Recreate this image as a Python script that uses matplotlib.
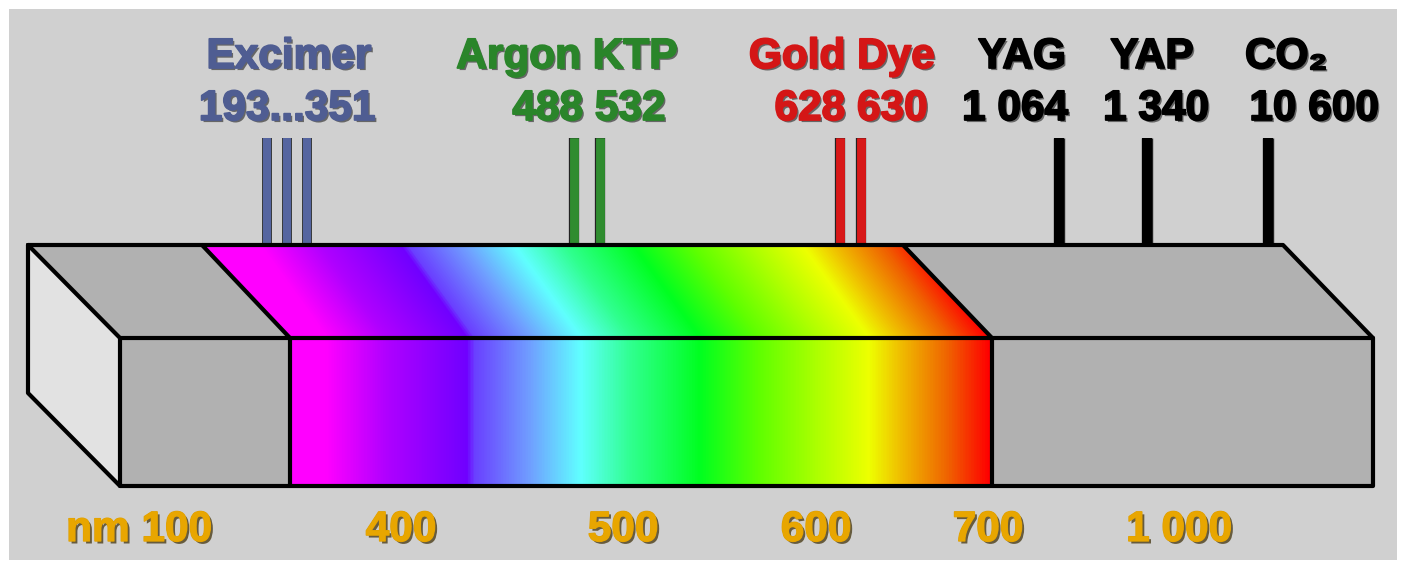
import numpy as np
import matplotlib
matplotlib.use("Agg")
import matplotlib.pyplot as plt
import matplotlib.patheffects as pe
from matplotlib.patches import Polygon, Rectangle
from matplotlib.colors import LinearSegmentedColormap

# laser groups shown above the bar
laser_names = ["Excimer", "Argon KTP", "Gold Dye", "YAG", "YAP", "CO\u2082"]
laser_waves = ["193...351", "488 532", "628 630", "1 064", "1 340", "10 600"]
laser_lines = [[193, 248, 351], [488, 532], [628, 630], [1064], [1340], [10600]]
laser_colors = ["#4f5d92", "#2a852a", "#d41616", "#000000", "#000000", "#000000"]
line_colors = ["#5565a0", "#2f8c2f", "#d81818", "#000000", "#000000", "#000000"]

# scale labels under the bar
scale_labels = ["nm 100", "400", "500", "600", "700", "1 000"]

# spectrum colour stops along the front face (schematic x, colour)
spec_x = [290, 325, 385, 466, 474, 530, 580, 630, 700, 760, 820, 870, 900, 950, 990]
spec_c = ["#ff00ff", "#ff00ff", "#b000ff", "#7000ff", "#6a40ff", "#70a0ff", "#60ffff",
          "#30ff90", "#00ff20", "#60ff00", "#b0ff00", "#eeff00", "#f0c000", "#f06000",
          "#ff0000"]

# ---- layout (schematic pixel positions) ----
name_x = [289, 567, 842, 1022, 1152, 1245]
name_ha = ["center"] * 5 + ["left"]
wave_x = [287, 589, 851, 1015, 1156, 1314]
line_x = [[267, 287, 307], [574, 600], [840, 861], [1059], [1147], [1268]]
line_w = [5.8, 6.2, 6.2, 7.0, 7.0, 7.0]
scale_x = [139, 401, 623, 816, 988, 1179]

y_back, y_front, y_bot = 245, 338, 486
x_back_l, x_front_l = 28, 120
x_back_r, x_front_r = 1283, 1373
sp_top_l, sp_top_r = 202, 903
sp_l, sp_r = 290, 992
shear = 0.72

fig = plt.figure(figsize=(14.06, 5.68), dpi=100)
ax = fig.add_axes([0, 0, 1, 1])
ax.set_xlim(0, 1406)
ax.set_ylim(568, 0)
ax.axis("off")
fig.patch.set_facecolor("white")

ax.add_patch(Rectangle((9, 9), 1388, 551, facecolor="#d0d0d0", edgecolor="none", zorder=0))

# faces of the bar
ax.add_patch(Polygon([(x_back_l, y_back), (x_front_l, y_front), (x_front_l, y_bot),
                      (x_back_l, 393)], closed=True, facecolor="#e2e2e2", edgecolor="none", zorder=1))
ax.add_patch(Polygon([(x_back_l, y_back), (x_back_r, y_back), (x_front_r, y_front),
                      (x_front_l, y_front)], closed=True, facecolor="#b1b1b1", edgecolor="none", zorder=1))
ax.add_patch(Rectangle((x_front_l, y_front), x_front_r - x_front_l, y_bot - y_front,
                       facecolor="#b1b1b1", edgecolor="none", zorder=1))

# spectrum gradient, front face plus sheared top face
cmap = LinearSegmentedColormap.from_list(
    "spec", [((x - spec_x[0]) / (spec_x[-1] - spec_x[0]), c) for x, c in zip(spec_x, spec_c)])
xs = np.arange(sp_top_l, sp_r + 1, 0.5)
ys = np.arange(y_back, y_bot + 1, 0.5)
X, Y = np.meshgrid(xs, ys)
T = np.where(Y >= y_front, X, X + shear * (y_front - Y))
T = np.clip((T - spec_x[0]) / (spec_x[-1] - spec_x[0]), 0, 1)
img = ax.imshow(cmap(T), extent=(xs[0], xs[-1], ys[-1], ys[0]), aspect="auto",
                interpolation="bilinear", zorder=2)
clip = Polygon([(sp_top_l, y_back), (sp_top_r, y_back), (sp_r, y_front), (sp_r, y_bot),
                (sp_l, y_bot), (sp_l, y_front)], closed=True, transform=ax.transData)
img.set_clip_path(clip)
ax.set_xlim(0, 1406)
ax.set_ylim(568, 0)

# outlines
lw = 3.0
k = dict(color="black", lw=lw, zorder=5, solid_capstyle="round", solid_joinstyle="round")
ax.plot([x_back_l, x_back_r, x_front_r, x_front_r, x_front_l, x_back_l, x_back_l],
        [y_back, y_back, y_front, y_bot, y_bot, 393, y_back], **k)
ax.plot([x_back_l, x_front_l, x_front_l], [y_back, y_front, y_bot], **k)
ax.plot([x_front_l, x_front_r], [y_front, y_front], **k)
ax.plot([sp_top_l, sp_l, sp_l], [y_back, y_front, y_bot], **k)
ax.plot([sp_top_r, sp_r, sp_r], [y_back, y_front, y_bot], **k)

# laser lines
for xs_l, c, w in zip(line_x, line_colors, line_w):
    ax.vlines(xs_l, 138, y_back, colors=c, lw=w, zorder=3,
              path_effects=[pe.withStroke(linewidth=w + 1.2, foreground="#222222"), pe.Normal()])

# labels
fam = ["Liberation Sans", "DejaVu Sans"]
fs = 30.5
for n, w, nx, ha, wx, c in zip(laser_names, laser_waves, name_x, name_ha, wave_x, laser_colors):
    fx = [pe.withSimplePatchShadow(offset=(1.5, -1.5), shadow_rgbFace="#202020", alpha=0.6),
          pe.withStroke(linewidth=1.3, foreground=c), pe.Normal()]
    ax.text(nx, 68, n, ha=ha, va="baseline", fontsize=fs, fontweight="bold",
            family=fam, color=c, path_effects=fx, zorder=6)
    ax.text(wx, 120, w, ha="center", va="baseline", fontsize=fs, fontweight="bold",
            family=fam, color=c, path_effects=fx, zorder=6)

for s, sx in zip(scale_labels, scale_x):
    ax.text(sx, 541, s, ha="center", va="baseline", fontsize=fs, fontweight="bold",
            family=fam, color="#e8a600",
            path_effects=[pe.withSimplePatchShadow(offset=(1.8, -1.8), shadow_rgbFace="#3a2a00", alpha=0.7),
                          pe.withStroke(linewidth=1.0, foreground="#e0a000"), pe.Normal()], zorder=6)

fig.savefig("out.png", dpi=100)
